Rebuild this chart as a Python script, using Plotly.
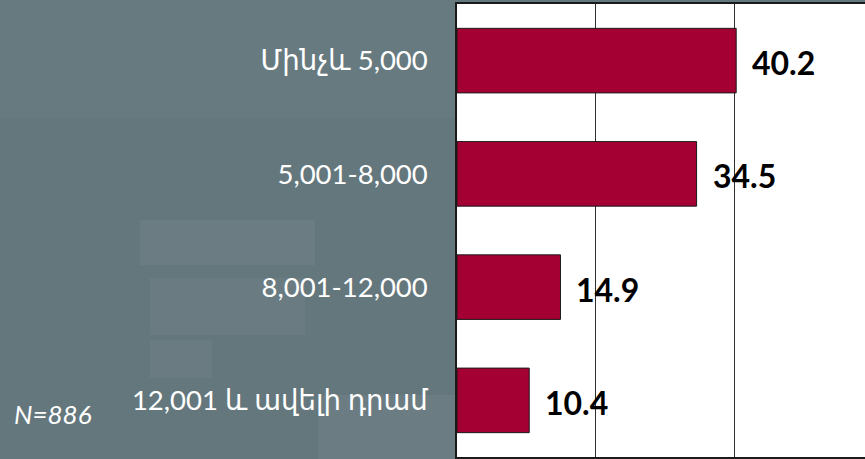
import plotly.graph_objects as go

categories = ["Մինչև 5,000", "5,001-8,000", "8,001-12,000", "12,001 և ավելի դրամ"]
values = [40.2, 34.5, 14.9, 10.4]
sample_note = "N=886"

bar_color = "#A50034"
bg_color = "#64777D"

W, H = 865, 459
ML, MR, MT, MB = 457, 0, 4, 2
PW, PH = W - ML - MR, H - MT - MB


def px(x):
    return (x - ML) / PW


def py(y):
    return (H - MB - y) / PH


fig = go.Figure()
fig.add_trace(go.Bar(
    y=categories,
    x=values,
    orientation="h",
    marker=dict(color=bar_color, line=dict(color="#1a1a1a", width=1)),
    width=0.57,
    hoverinfo="skip",
))

for c, v in zip(categories, values):
    fig.add_annotation(
        x=v, y=c, xref="x", yref="y",
        text=f"<b>{v:.1f}</b>",
        showarrow=False, xanchor="left", xshift=14, yshift=-2,
        font=dict(family="Lato, DejaVu Sans", size=32, color="#000000"),
    )

fig.add_annotation(
    x=px(12), y=py(414), xref="paper", yref="paper", text=f"<i>{sample_note}</i>",
    showarrow=False, xanchor="left", yanchor="middle",
    font=dict(family="Lato, DejaVu Sans", size=26, color="#ffffff"),
)

# faint background watermark shapes (decoration only)
deco = [
    (0, 0, 457, 118, "rgba(255,255,255,0.025)"),
    (140, 220, 315, 265, "rgba(255,255,255,0.05)"),
    (150, 278, 305, 335, "rgba(255,255,255,0.045)"),
    (150, 340, 212, 378, "rgba(255,255,255,0.04)"),
    (318, 395, 457, 459, "rgba(255,255,255,0.05)"),
]
for x0, y0, x1, y1, col in deco:
    fig.add_shape(type="rect", xref="paper", yref="paper",
                  x0=px(x0), x1=px(x1), y0=py(y1), y1=py(y0),
                  line=dict(width=0), fillcolor=col, layer="below")

fig.update_layout(
    width=W, height=H,
    margin=dict(l=ML, r=MR, t=MT, b=MB, autoexpand=False),
    paper_bgcolor=bg_color,
    plot_bgcolor="#ffffff",
    showlegend=False,
    xaxis=dict(
        range=[0, 58.75], dtick=20, tick0=0,
        showgrid=True, gridcolor="#303030", gridwidth=1,
        showticklabels=False, zeroline=False,
        showline=True, linecolor="#1a1a1a", linewidth=1.5, mirror=True,
        fixedrange=True, automargin=False,
    ),
    yaxis=dict(
        autorange="reversed",
        showline=True, linecolor="#1a1a1a", linewidth=1.5,
        ticks="", ticklabelstandoff=22, automargin=False,
        tickfont=dict(family="Lato, DejaVu Sans", size=27.5, color="#ffffff"),
        fixedrange=True,
    ),
)

fig.write_html(
    "out.html",
    config={"displayModeBar": False},
    post_script="document.body.style.margin='0';document.body.style.overflow='hidden';",
)
